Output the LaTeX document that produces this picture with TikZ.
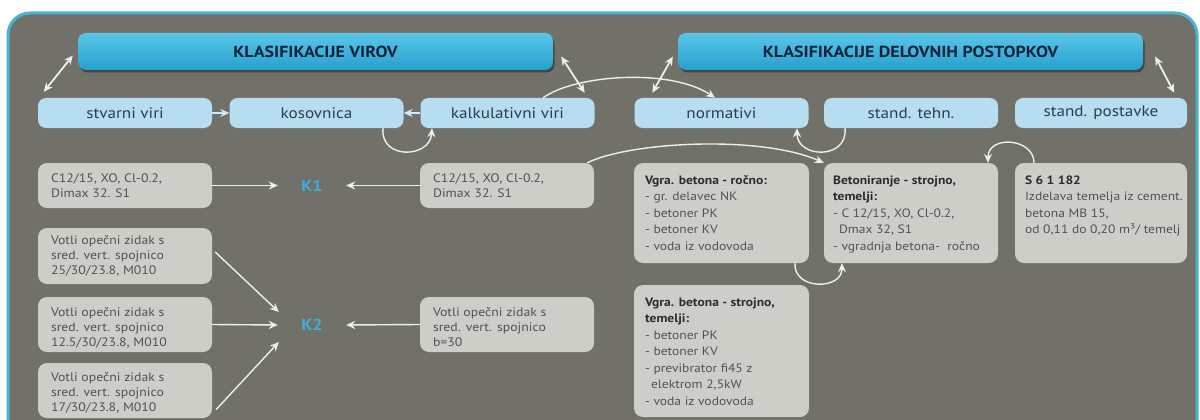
\documentclass[tikz,border=0pt]{standalone}
\usepackage{fontspec}
\setmainfont[FakeStretch=1.12]{PT Sans}
\usetikzlibrary{arrows.meta,shadows}
\definecolor{panel}{RGB}{113,112,105}
\definecolor{bordercyan}{RGB}{70,180,210}
\definecolor{hdtop}{RGB}{90,198,232}
\definecolor{hdbot}{RGB}{38,160,205}
\definecolor{hdtext}{RGB}{15,35,60}
\definecolor{rowblue}{RGB}{182,222,240}
\definecolor{rowtext}{RGB}{40,62,85}
\definecolor{boxgray}{RGB}{206,206,201}
\definecolor{boxtext}{RGB}{82,82,80}
\definecolor{boldtext}{RGB}{45,45,45}
\definecolor{kcyan}{RGB}{60,175,215}
\definecolor{arrowwhite}{RGB}{238,238,236}
\newcommand{\bt}[1]{\textcolor{boldtext}{\textbf{#1}}}
\begin{document}
\begin{tikzpicture}[x=1pt,y=-1pt,
  header/.style={rounded corners=8pt, top color=hdtop, bottom color=hdbot, draw=none, inner sep=0pt, minimum height=37pt, font=\fontsize{16}{18}\selectfont\bfseries, text=hdtext, drop shadow={shadow xshift=1.5pt, shadow yshift=-2.5pt, opacity=0.7, fill=black!80}},
  rowbox/.style={rounded corners=8pt, fill=rowblue, inner sep=0pt, minimum width=174pt, minimum height=30pt, font=\fontsize{15.3}{17}\selectfont, text=rowtext},
  gbox/.style={rounded corners=9pt, fill=boxgray, inner sep=0pt, minimum width=174pt},
  ltext/.style={anchor=north west, inner sep=0pt, align=left, text=boxtext, font=\fontsize{12.3}{15}\selectfont},
  rtext/.style={anchor=north west, inner sep=0pt, align=left, text=boxtext, font=\fontsize{12.1}{16.5}\selectfont},
  klab/.style={inner sep=0pt, minimum width=68pt, minimum height=20pt, font=\fontsize{16}{18}\selectfont\bfseries, text=kcyan},
  link/.style={draw=arrowwhite, line width=1.4pt, -{Stealth[length=9pt,width=8pt]}},
  rowlink/.style={draw=rowblue!60!white, line width=1.4pt, -{Stealth[length=9pt,width=8pt]}},
  dlink/.style={draw=arrowwhite, line width=1.8pt, {Stealth[length=9pt,width=8pt]}-{Stealth[length=9pt,width=8pt]}},
]
\useasboundingbox (0,0) rectangle (1200,420);
\begin{scope}
\clip (0,0) rectangle (1200,420);
\fill[white] (0,0) rectangle (1200,420);
\draw[draw=bordercyan, line width=3pt, fill=panel, rounded corners=22pt] (8,13) rectangle (1197,445);
\end{scope}

% headers
\node[header, minimum width=475pt] (h1) at (315.5,51.5) {KLASIFIKACIJE VIROV};
\node[header, minimum width=465pt] (h2) at (910.5,51.5) {KLASIFIKACIJE DELOVNIH POSTOPKOV};

% row of categories
\node[rowbox] (stv) at (125,113) {stvarni viri};
\node[rowbox] (kos) at (316.5,113) {kosovnica};
\node[rowbox] (kalk) at (507.5,113) {kalkulativni viri};
\node[rowbox] (norm) at (721.5,113) {normativi};
\node[rowbox] (tehn) at (911,113) {stand. tehn.};
\node[rowbox, minimum width=172pt] (post) at (1101,113) {stand. postavke};

% grey boxes
\node[gbox, minimum height=45pt] (l1) at (125,185.5) {};
\node[gbox, minimum height=56pt] (v1) at (125,256) {};
\node[gbox, minimum height=55pt] (v2) at (125,324.5) {};
\node[gbox, minimum height=55pt] (v3) at (125,390.5) {};
\node[gbox, minimum height=45pt] (r1) at (507,185.5) {};
\node[gbox, minimum height=55pt] (r2) at (507,324.5) {};
\node[gbox, minimum width=175pt, minimum height=100pt] (vr) at (721.5,213) {};
\node[gbox, minimum height=100pt] (bt) at (911,213) {};
\node[gbox, minimum width=172pt, minimum height=100pt] (s6) at (1101,213) {};
\node[gbox, minimum width=175pt, minimum height=132pt] (vs) at (721.5,351) {};

\node[ltext] (l1t) at ([shift={(13,10.5)}]l1.north west) {C12/15, XO, Cl-0.2,\\Dimax 32. S1};
\node[ltext] (r1t) at ([shift={(13,10.5)}]r1.north west) {C12/15, XO, Cl-0.2,\\Dimax 32. S1};
\node[ltext] (v1t) at ([shift={(13,7.5)}]v1.north west) {Votli opečni zidak s\\sred. vert. spojnico\\25/30/23.8, M010};
\node[ltext] (v2t) at ([shift={(13,10)}]v2.north west) {Votli opečni zidak s\\sred. vert. spojnico\\12.5/30/23.8, M010};
\node[ltext] (v3t) at ([shift={(13,9.5)}]v3.north west) {Votli opečni zidak s\\sred. vert. spojnico\\17/30/23.8, M010};
\node[ltext] (r2t) at ([shift={(13,10)}]r2.north west) {Votli opečni zidak s\\sred. vert. spojnico\\b=30};
\node[rtext] (vrt) at ([shift={(11,12.5)}]vr.north west) {\bt{Vgra. betona - ročno:}\\- gr. delavec NK\\- betoner PK\\- betoner KV\\- voda iz vodovoda};
\node[rtext] (btt) at ([shift={(9,12.5)}]bt.north west) {\bt{Betoniranje - strojno,}\\\bt{temelji:}\\- C 12/15, XO, Cl-0.2,\\\hspace*{0.5em}Dmax 32, S1\\- vgradnja betona-\ \ ročno};
\node[rtext] (s6t) at ([shift={(10,12.5)}]s6.north west) {\bt{S 6 1 182}\\Izdelava temelja iz cement.\\betona MB 15,\\od 0,11 do 0,20 m³/ temelj};
\node[rtext] (vst) at ([shift={(11,12.5)}]vs.north west) {\bt{Vgra. betona - strojno,}\\\bt{temelji:}\\- betoner PK\\- betoner KV\\- previbrator fi45 z\\\hspace*{0.5em}elektrom 2,5kW\\- voda iz vodovoda};

% K labels
\node[klab] (k1) at (312,185.5) {K1};
\node[klab] (k2) at (312,325) {K2};

% double arrows
\draw[dlink] ([shift={(-5,4)}]h1.west) -- ([shift={(6,-6)}]stv.north west);
\draw[dlink] ([shift={(8,5)}]h1.east) -- ([shift={(-10,-5)}]kalk.north east);
\draw[dlink] ([shift={(-5,5)}]h2.west) -- ([shift={(18,-5)}]norm.north west);
\draw[dlink] ([shift={(12,5)}]h2.east) -- ([shift={(-13,-5)}]post.north east);

% row arrows
\draw[rowlink] (stv.east) -- (kos.west);
\draw[rowlink] (kalk.west) -- (kos.east);

% curves
\draw[link] ([shift={(35.5,0)}]kalk.north) .. controls +(32,-23) and +(-45,-30) .. ([shift={(-6.5,0)}]norm.north);
\draw[link] ([shift={(66.5,0)}]kos.south) .. controls +(-3,32) and +(-2,30) .. ([shift={(-75.5,0)}]kalk.south);
\draw[link] ([shift={(-66,0)}]tehn.south) .. controls +(3,32) and +(0,30) .. ([shift={(75.5,0)}]norm.south);
\draw[link] ([shift={(-7,0)}]r1.north east) .. controls +(43,-21) and +(-64,-28) .. (bt.north west);
\draw[link] ([shift={(-67,0)}]s6.north) .. controls +(0,-25) and +(0,-28) .. ([shift={(77,0)}]bt.north);
\draw[link] ([shift={(73.5,0)}]vr.south) .. controls +(-2,27) and +(0,27) .. ([shift={(-69,0)}]bt.south);

% K arrows
\draw[link] (l1.east) -- (k1.west);
\draw[link] (r1.west) -- (k1.east);
\draw[link] ([shift={(3,-4)}]v1.east) -- ([shift={(1,-13)}]k2.west);
\draw[link] (v2.east) -- (k2.west);
\draw[link] ([shift={(4,19)}]v3.east) -- ([shift={(1,17)}]k2.west);
\draw[link] (r2.west) -- (k2.east);
\end{tikzpicture}
\end{document}
